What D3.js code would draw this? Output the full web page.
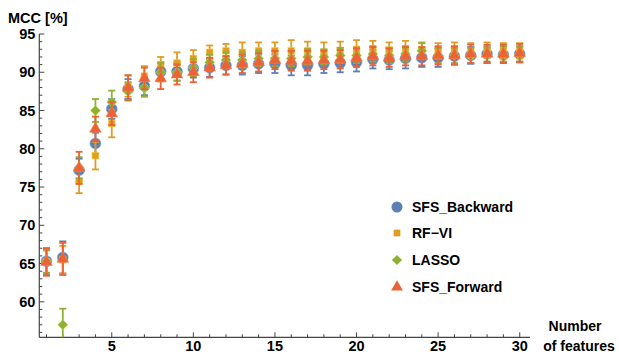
<!DOCTYPE html>
<html><head><meta charset="utf-8">
<script src="https://cdn.jsdelivr.net/npm/d3@7"></script>
<style>
body{margin:0;background:#fff;}
text{font-family:"Liberation Sans",Arial,sans-serif;font-weight:bold;fill:#000;}
</style></head>
<body><svg id="c" width="619" height="354"></svg>
<script>
const features = d3.range(1, 31);
const seriesNames = ["SFS_Backward", "RF\u2212VI", "LASSO", "SFS_Forward"];
const seriesColors = ["#5E81B5", "#E19C24", "#8FB032", "#EB6235"];
const sfsBackward = [65.3,65.8,77.2,80.7,85.2,87.8,88.2,90.1,90.1,90.5,90.6,90.9,90.9,91.1,91.1,90.9,90.9,91.1,91.2,91.3,91.7,91.6,91.8,91.9,91.9,92.1,92.2,92.4,92.3,92.4];
const sfsBackwardErr = [1.7,2.1,1.5,1.4,1.3,1.3,1.2,1.2,1.2,1.2,1.2,1.2,1.2,1.2,1.2,1.3,1.3,1.2,1.2,1.2,1.2,1.2,1.3,1.2,1.2,1.1,1.1,1.0,1.0,1.0];
const rfVi = [65.2,65.5,75.8,79.1,83.3,88.2,89.5,91.0,91.2,91.8,92.6,92.8,92.6,92.8,92.8,92.8,92.8,92.6,92.8,93.0,93.0,92.9,93.0,92.9,92.8,92.9,92.8,92.9,92.8,92.8];
const rfViErr = [1.5,1.8,1.6,1.8,1.8,1.4,1.3,1.0,1.4,1.1,0.9,0.9,1.3,1.1,1.1,1.4,1.2,1.3,1.2,1.2,1.1,1.0,1.1,1.0,1.0,1.0,1.0,1.0,1.0,1.0];
const lasso = [65.3,57.0,77.5,85.0,86.1,87.5,88.0,90.0,90.0,90.6,91.3,91.6,91.6,91.8,91.8,91.8,92.0,92.0,92.2,92.2,92.4,92.2,92.4,92.8,92.2,92.2,92.2,92.2,92.4,92.3];
const lassoErr = [1.5,2.1,1.4,1.5,1.5,1.2,1.2,1.2,1.1,1.1,1.0,1.0,1.0,1.0,1.0,1.0,1.0,1.0,1.0,1.0,1.0,1.0,1.0,1.0,1.0,1.0,1.0,1.0,1.0,1.0];
const sfsForward = [65.2,65.6,77.5,82.6,84.6,88.0,89.2,89.2,89.7,90.0,90.6,90.9,91.1,91.3,91.6,91.5,91.5,91.6,91.7,91.9,92.1,91.9,92.1,92.1,92.2,92.2,92.4,92.4,92.4,92.5];
const sfsForwardErr = [1.8,2.1,2.1,1.6,1.5,1.6,1.4,1.4,1.3,1.3,1.3,1.2,1.2,1.2,1.2,1.3,1.3,1.2,1.2,1.2,1.2,1.2,1.2,1.2,1.2,1.2,1.2,1.2,1.2,1.2];
const xTicks = [5,10,15,20,25,30];
const yTicks = [60,65,70,75,80,85,90,95];

const series = [
  {name: seriesNames[0], color: seriesColors[0], vals: sfsBackward, errs: sfsBackwardErr, sym: d3.symbolCircle, size: 95},
  {name: seriesNames[1], color: seriesColors[1], vals: rfVi, errs: rfViErr, sym: d3.symbolSquare, size: 45},
  {name: seriesNames[2], color: seriesColors[2], vals: lasso, errs: lassoErr, sym: d3.symbolDiamond2, size: 65},
  {name: seriesNames[3], color: seriesColors[3], vals: sfsForward, errs: sfsForwardErr, sym: d3.symbolTriangle, size: 60}
];

const svg = d3.select("#c");
const x = d3.scaleLinear().domain([0.56, 30.63]).range([39.3, 530]);
const y = d3.scaleLinear().domain([55.36, 95]).range([337.3, 34]);

const axisColor = "#444";
const yg = svg.append("g");
yg.append("line").attr("x1", x(0.56)).attr("x2", x(0.56)).attr("y1", y(55.36)).attr("y2", y(95)).attr("stroke", axisColor).attr("stroke-width", 1.2);
d3.range(56, 96).forEach(v => {
  const major = v % 5 === 0;
  yg.append("line").attr("x1", x(0.56)).attr("x2", x(0.56) + (major ? 5 : 3))
    .attr("y1", y(v)).attr("y2", y(v)).attr("stroke", axisColor).attr("stroke-width", 1);
});
yTicks.forEach(v => {
  yg.append("text").attr("x", x(0.56) - 4).attr("y", y(v) + 5).attr("text-anchor", "end").attr("font-size", 14.5).text(v);
});
const xg = svg.append("g");
xg.append("line").attr("x1", x(0.56)).attr("x2", x(30.63)).attr("y1", y(55.36)).attr("y2", y(55.36)).attr("stroke", axisColor).attr("stroke-width", 1.2);
d3.range(1, 31).forEach(v => {
  const major = v % 5 === 0;
  xg.append("line").attr("x1", x(v)).attr("x2", x(v)).attr("y1", y(55.36)).attr("y2", y(55.36) - (major ? 5 : 3)).attr("stroke", axisColor).attr("stroke-width", 1);
});
xTicks.forEach(v => {
  xg.append("text").attr("x", x(v)).attr("y", 351).attr("text-anchor", "middle").attr("font-size", 14.5).text(v);
});
svg.append("text").attr("x", 8).attr("y", 23).attr("font-size", 14.5).text("MCC [%]");
svg.append("text").attr("x", 575).attr("y", 331).attr("text-anchor", "middle").attr("font-size", 14).text("Number");
svg.append("text").attr("x", 579).attr("y", 351).attr("text-anchor", "middle").attr("font-size", 14).text("of features");

const plot = svg.append("g");
series.forEach(s => {
  const g = plot.append("g");
  features.forEach((f, i) => {
    const v = s.vals[i], e = s.errs[i];
    const lo = Math.max(v - e, 55.36), hi = v + e;
    g.append("line").attr("x1", x(f)).attr("x2", x(f)).attr("y1", y(lo)).attr("y2", y(hi)).attr("stroke", s.color).attr("stroke-width", 1.8);
    [lo, hi].forEach(t => {
      if (t === 55.36) return;
      g.append("line").attr("x1", x(f) - 3.5).attr("x2", x(f) + 3.5).attr("y1", y(t)).attr("y2", y(t)).attr("stroke", s.color).attr("stroke-width", 1.8);
    });
  });
  g.selectAll("path.m").data(features).enter().append("path")
    .attr("transform", (f, i) => `translate(${x(f)},${y(s.vals[i])})`)
    .attr("d", d3.symbol().type(s.sym).size(s.size))
    .attr("fill", s.color)
    .attr("stroke", d3.color(s.color).brighter(0.8)).attr("stroke-opacity", 0.5).attr("stroke-width", 1);
});

const lg = svg.append("g");
const legY = [207, 233, 260, 287];
series.forEach((s, i) => {
  lg.append("path").attr("transform", `translate(397,${legY[i]})`)
    .attr("d", d3.symbol().type(s.sym).size(s.size)).attr("fill", s.color);
  lg.append("text").attr("x", 412).attr("y", legY[i] + 5).attr("font-size", 14).text(s.name);
});
</script></body></html>
